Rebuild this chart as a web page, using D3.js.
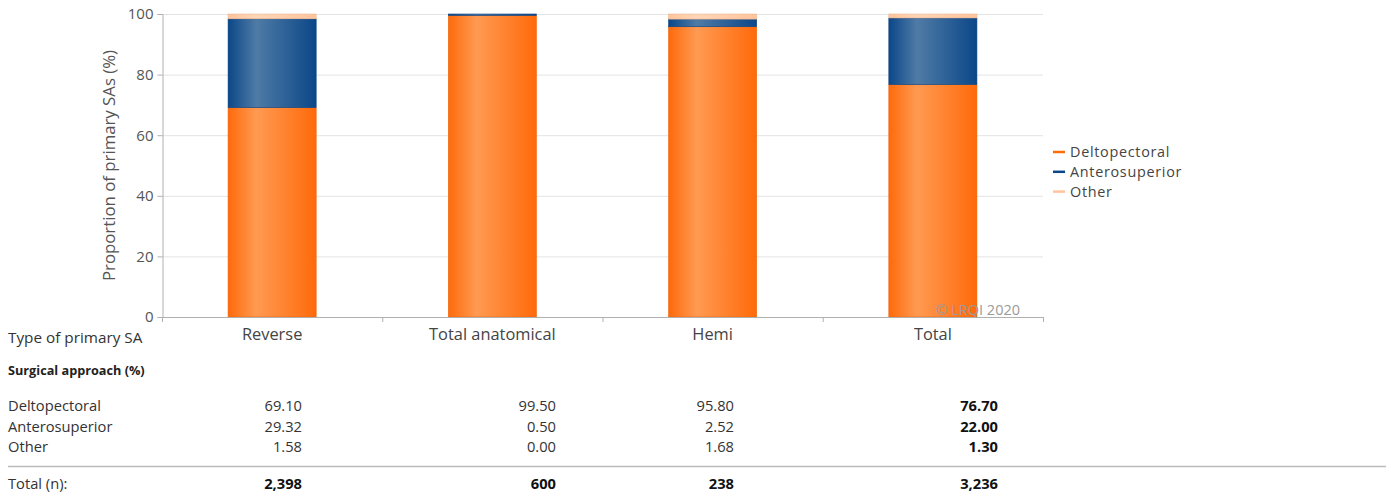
<!DOCTYPE html>
<html><head><meta charset="utf-8">
<script src="https://cdn.jsdelivr.net/npm/d3@7"></script>
<style>
html,body{margin:0;padding:0;background:#fff;}
svg{display:block;font-family:"Open Sans",sans-serif;}
</style></head>
<body><svg id="c" width="1391" height="501"></svg>
<script>
const categories = ["Reverse","Total anatomical","Hemi","Total"];
const seriesNames = ["Deltopectoral","Anterosuperior","Other"];
const deltopectoral = [69.10, 99.50, 95.80, 76.70];
const anterosuperior = [29.32, 0.50, 2.52, 22.00];
const other = [1.58, 0.00, 1.68, 1.30];
const totalN = ["2,398","600","238","3,236"];
const yTicks = [0,20,40,60,80,100];

const svg = d3.select("#c");
const margin = {left:162, right:1043, top:14, bottom:317};

const x = d3.scaleBand().domain(categories).range([margin.left, margin.right]).padding(0);
const y = d3.scaleLinear().domain([0,100]).range([margin.bottom, margin.top]);

const colors = {Deltopectoral:"#ff6a0a", Anterosuperior:"#0b4788", Other:"#ffc49c"};
const light = {Deltopectoral:"#ff9a52", Anterosuperior:"#4f7ba6", Other:"#ffd6b8"};
const defs = svg.append("defs");
seriesNames.forEach((s,i)=>{
  const g = defs.append("linearGradient").attr("id","g"+i).attr("x1","0%").attr("x2","100%");
  g.append("stop").attr("offset","0%").attr("stop-color",colors[s]);
  g.append("stop").attr("offset","32%").attr("stop-color",light[s]);
  g.append("stop").attr("offset","100%").attr("stop-color",colors[s]);
});

// gridlines
svg.append("g").selectAll("line").data(yTicks.filter(d=>d>0)).join("line")
  .attr("x1",margin.left).attr("x2",margin.right)
  .attr("y1",d=>y(d)+0.5).attr("y2",d=>y(d)+0.5)
  .attr("stroke","#e3e3e3").attr("stroke-width",1);

// y axis
const yAxis = svg.append("g").attr("transform",`translate(${margin.left+0.5},0)`)
  .call(d3.axisLeft(y).tickValues(yTicks).tickSize(5).tickPadding(4));
yAxis.select(".domain").attr("stroke","#b0b0b0");
yAxis.selectAll(".tick line").attr("stroke","#b0b0b0");
yAxis.selectAll("text").attr("font-size",15).attr("fill","#555").attr("font-family","Open Sans");

svg.append("text").attr("transform",`translate(115,${(margin.top+margin.bottom)/2}) rotate(-90)`)
  .attr("text-anchor","middle").attr("font-size",16.8).attr("fill","#555")
  .text("Proportion of primary SAs (%)");

// stacked bars
const rows = categories.map((c,i)=>({cat:c, Deltopectoral:deltopectoral[i], Anterosuperior:anterosuperior[i], Other:other[i]}));
const stacked = d3.stack().keys(seriesNames)(rows);
const bw = x.bandwidth()*0.4;
stacked.forEach((layer,li)=>{
  svg.append("g").selectAll("rect").data(layer.filter(d=>d[1]-d[0]>0)).join("rect")
    .attr("x",d=>x(d.data.cat)+x.bandwidth()/2-bw/2)
    .attr("width",bw)
    .attr("y",d=>y(d[1]))
    .attr("height",d=>y(d[0])-y(d[1]))
    .attr("fill",`url(#g${li})`)
    .attr("stroke",d3.color(colors[layer.key]).darker(0.2))
    .attr("stroke-width",0.6);
});

// x axis
const xa = svg.append("g");
xa.append("line").attr("x1",margin.left).attr("x2",margin.right)
  .attr("y1",margin.bottom+0.5).attr("y2",margin.bottom+0.5).attr("stroke","#b0b0b0");
const bounds = categories.map(c=>x(c)).concat([margin.right]);
xa.selectAll("line.t").data(bounds).join("line").attr("class","t")
  .attr("x1",d=>d+0.5).attr("x2",d=>d+0.5)
  .attr("y1",margin.bottom).attr("y2",margin.bottom+5).attr("stroke","#b0b0b0");
xa.selectAll("text").data(categories).join("text")
  .attr("x",d=>x(d)+x.bandwidth()/2).attr("y",340)
  .attr("text-anchor","middle").attr("font-size",16.4).attr("fill","#444").text(d=>d);

// watermark
svg.append("text").attr("x",1020).attr("y",315).attr("text-anchor","end")
  .attr("font-size",14.5).attr("fill","#9a9a9a").text("© LRQI 2020");

// legend
const lg = svg.append("g");
seriesNames.forEach((s,i)=>{
  const yy = 152 + i*19.8;
  lg.append("line").attr("x1",1053).attr("x2",1065).attr("y1",yy).attr("y2",yy)
    .attr("stroke",colors[s]).attr("stroke-width",2.5);
  lg.append("text").attr("x",1070).attr("y",yy+5).attr("font-size",14.4)
    .attr("letter-spacing",0.7).attr("fill","#444").text(s);
});

// table
const tbl = svg.append("g").attr("font-size",14.7).attr("fill","#333");
tbl.append("text").attr("x",8).attr("y",343).attr("font-size",15.3).attr("fill","#333").text("Type of primary SA");
tbl.append("text").attr("x",8).attr("y",375).attr("font-size",12.7).attr("font-weight","bold").attr("fill","#222").text("Surgical approach (%)");
const colRight = [302, 556, 734, 998];
const seriesVals = [deltopectoral, anterosuperior, other];
seriesNames.forEach((s,si)=>{
  const yy = 411 + si*20.5;
  tbl.append("text").attr("x",8).attr("y",yy).text(s);
  seriesVals[si].forEach((v,ci)=>{
    tbl.append("text").attr("x",colRight[ci]).attr("y",yy).attr("text-anchor","end")
      .attr("font-weight",ci===3?"bold":"normal").attr("fill",ci===3?"#111":"#333")
      .text(v.toFixed(2));
  });
});
tbl.append("line").attr("x1",8).attr("x2",1386).attr("y1",466.5).attr("y2",466.5)
  .attr("stroke","#bbb").attr("stroke-width",1.5);
tbl.append("text").attr("x",8).attr("y",489).text("Total (n):");
totalN.forEach((v,ci)=>{
  tbl.append("text").attr("x",colRight[ci]).attr("y",489).attr("text-anchor","end")
    .attr("font-weight","bold").attr("fill","#111").text(v);
});
</script></body></html>
